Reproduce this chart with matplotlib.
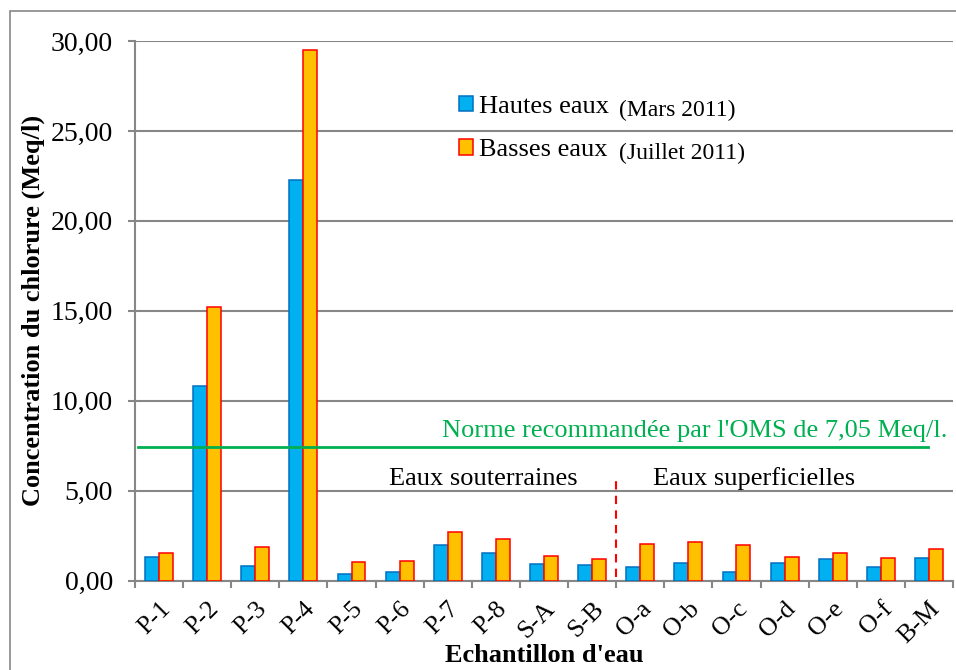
import matplotlib.pyplot as plt
import numpy as np
from matplotlib.patches import Rectangle, Patch

plt.rcParams['font.family'] = ['Liberation Serif', 'DejaVu Serif']

echantillons = ["P-1", "P-2", "P-3", "P-4", "P-5", "P-6", "P-7", "P-8", "S-A", "S-B",
                "O-a", "O-b", "O-c", "O-d", "O-e", "O-f", "B-M"]
hautes_eaux = [1.30, 10.82, 0.83, 22.26, 0.39, 0.47, 1.98, 1.54, 0.91, 0.89,
               0.76, 1.00, 0.50, 1.00, 1.19, 0.76, 1.26]
basses_eaux = [1.52, 15.20, 1.86, 29.48, 1.06, 1.11, 2.69, 2.30, 1.39, 1.22,
               2.04, 2.13, 2.00, 1.32, 1.56, 1.26, 1.74]
norme = 7.44
yticks = [0, 5, 10, 15, 20, 25, 30]
ytick_labels = ["0,00", "5,00", "10,00", "15,00", "20,00", "25,00", "30,00"]

gris = "#878787"
fig = plt.figure(figsize=(9.56, 6.70), dpi=100)
# cadre du graphique
fig.patches.append(Rectangle((10 / 956, -0.1), 1.2, 1 - 11 / 670 + 0.1,
                             transform=fig.transFigure, fill=False,
                             edgecolor=gris, linewidth=1.2))
ax = fig.add_axes([135 / 956, 1 - 580.7 / 670, 818 / 956, (580.7 - 41) / 670])

x = np.arange(len(echantillons))
w = 0.29
ax.bar(x - w / 2, hautes_eaux, w, color="#00B0F0", edgecolor="#0070C0",
       linewidth=1.1, zorder=3, label="Hautes eaux")
ax.bar(x + w / 2, basses_eaux, w, color="#FFC000", edgecolor="#FF0000",
       linewidth=1.1, zorder=3, label="Basses eaux")

ax.set_xlim(-0.5, len(echantillons) - 0.5)
ax.set_ylim(0, 30)
ax.set_yticks(yticks)
ax.set_yticklabels(ytick_labels, fontsize=20)
ax.yaxis.grid(True, color=gris, linewidth=1.5, zorder=0)
ax.set_axisbelow(True)

ax.set_xticks(np.arange(-0.5, len(echantillons), 1))
ax.set_xticklabels([])
ax.set_xticks(x, minor=True)
ax.set_xticklabels(echantillons, minor=True, rotation=45, ha="right",
                   rotation_mode="anchor", fontsize=18.5)
ax.tick_params(axis="x", which="minor", length=0, pad=12)
ax.tick_params(axis="x", which="major", length=5, width=1.5, color=gris, direction="out")
ax.tick_params(axis="y", length=5, width=1.5, color=gris, pad=11)

for s in ["top", "right"]:
    ax.spines[s].set_visible(False)
for s in ["left", "bottom"]:
    ax.spines[s].set_color(gris)
    ax.spines[s].set_linewidth(1.5)

ax.set_xlabel("Echantillon d'eau", fontsize=19, fontweight="bold", labelpad=-2)
ax.set_ylabel("Concentration du chlorure (Meq/l)", fontsize=19, fontweight="bold", labelpad=4)

# norme OMS
ax.axhline(norme, xmin=0.004, xmax=0.969, color="#00B050", linewidth=2, zorder=4)
ax.text(16.38, 7.98, "Norme recommandée par l'OMS de 7,05 Meq/l.", color="#00B050",
        fontsize=19, ha="right", va="baseline")

# separation eaux souterraines / superficielles
ax.plot([9.5, 9.5], [0.2, 5.85], color="#FF0000", linestyle=(0, (4, 3)), linewidth=1.5, zorder=4)
ax.text(8.69, 5.32, "Eaux souterraines", fontsize=19, ha="right", va="baseline")
ax.text(10.27, 5.32, "Eaux superficielles", fontsize=19, ha="left", va="baseline")

# legende
handles = [Patch(facecolor="#00B0F0", edgecolor="#0070C0", linewidth=1.1),
           Patch(facecolor="#FFC000", edgecolor="#FF0000", linewidth=1.1)]
leg = ax.legend(handles, ["Hautes eaux", "Basses eaux"], loc="upper left",
                bbox_to_anchor=(0.383, 0.918), frameon=False, fontsize=19,
                handlelength=0.53, handleheight=0.53, handletextpad=0.25,
                labelspacing=0.8, borderaxespad=0)
ax.text(0.592, 0.861, "(Mars 2011)", transform=ax.transAxes, fontsize=17, va="baseline")
ax.text(0.592, 0.781, "(Juillet 2011)", transform=ax.transAxes, fontsize=17, va="baseline")

fig.savefig("out.png", dpi=100)
